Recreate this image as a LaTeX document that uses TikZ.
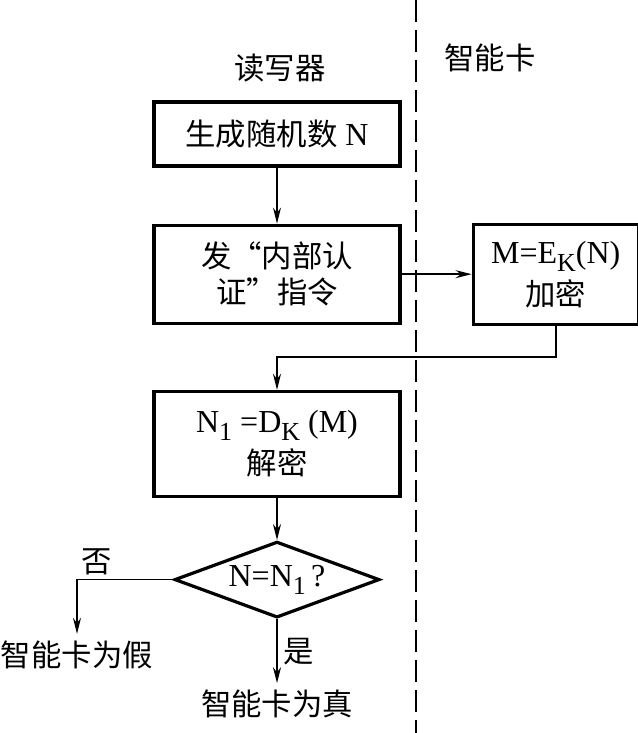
\documentclass[tikz,border=0pt]{standalone}
\usepackage{fontspec}
\setmainfont{Liberation Serif}
\newfontfamily\cjk[Scale=0.95]{Noto Sans CJK SC}
\usepackage{tikz}
\usetikzlibrary{positioning,shapes.geometric,arrows.meta}
\newcommand{\lowtxt}[1]{\raisebox{-4pt}{\fontsize{13}{13}\selectfont #1}}

\begin{document}
\begin{tikzpicture}[
      box/.style={rectangle,draw,line width=1.6pt,minimum width=123pt,align=center,font=\fontsize{16}{18}\selectfont},
      test/.style={diamond,draw,line width=1.6pt,minimum width=102.5pt,minimum height=38pt,inner sep=0pt,aspect=2.7,font=\fontsize{16}{18}\selectfont},
      txt/.style={font=\fontsize{16}{18}\selectfont\cjk},
      conn/.style={draw,line width=0.8pt,-{Stealth[length=8pt,width=4pt]}}]
      \useasboundingbox (0,0) rectangle (318.5pt,-366.5pt);
      \draw[line width=1pt,dash pattern=on 11pt off 4pt] (208pt,0) -- (208pt,-366.5pt);
      \node[txt] (reader) at (140pt,-34pt) {读写器};
      \node[txt] (card) at (245pt,-29pt) {智能卡};
      \node[box,minimum height=32pt] (gen) at (138.5pt,-67pt) {{\cjk 生成随机数} N};
      \node[box,minimum height=49pt,below=28pt of gen] (cmd) {{\cjk 发“内部认}\\{\cjk 证”指令}};
      \node[box,minimum width=82.5pt,minimum height=50pt,right=35pt of cmd] (enc) {M=E\lowtxt{K}(N)\\[3pt]{\cjk 加密}};
      \node[box,minimum height=52.5pt,below=32.5pt of cmd] (dec) {N\lowtxt{1} =D\lowtxt{K} (M)\\[3pt]{\cjk 解密}};
      \node[test,below=21pt of dec] (chk) {N=N\lowtxt{1}\,?};
      \node[txt] (fake) at (38.5pt,-327.5pt) {智能卡为假};
      \node[txt,below=32pt of chk] (real) {智能卡为真};
      \draw[conn] (gen) -- (cmd);
      \draw[conn] (cmd) -- (enc);
      \draw[conn] (enc.south) -- ++(0,-15.5pt) -| (dec.north);
      \draw[conn] (dec) -- (chk);
      \draw[conn] (chk.west) -| node[txt,pos=0.5,above right,inner sep=2pt] (no) {否} (fake.north);
      \draw[conn] (chk.south) -- node[txt,right,inner sep=3pt] (yes) {是} (real.north);
    \end{tikzpicture}
\end{document}
